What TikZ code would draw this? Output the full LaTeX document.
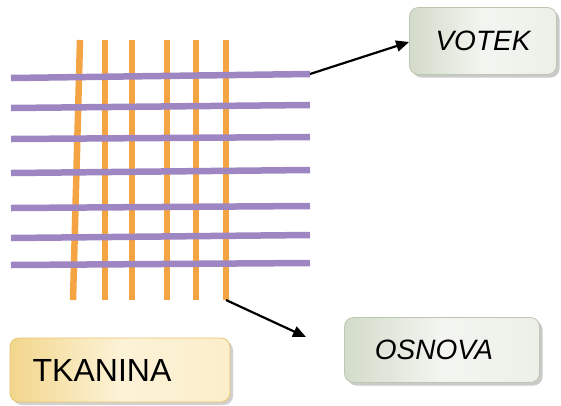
\documentclass[tikz,border=0pt]{standalone}
\usepackage{fontspec}
\setmainfont{Liberation Sans}
\usetikzlibrary{arrows.meta,shadows}
\definecolor{weft}{HTML}{9E86C2}
\definecolor{warp}{HTML}{F5A444}
\definecolor{gboxdark}{HTML}{D3DBCA}
\definecolor{gboxlight}{HTML}{F3F5F0}
\definecolor{gboxedge}{HTML}{BCC6B1}
\definecolor{yboxdark}{HTML}{F2D68C}
\definecolor{yboxlight}{HTML}{FCF2D6}
\definecolor{yboxedge}{HTML}{E5C46C}
\tikzset{
  weftline/.style={weft, line width=6.5pt},
  warpline/.style={warp, line width=6.5pt},
  greybox/.style={draw=gboxedge, line width=0.8pt, rounded corners=9pt,
    left color=gboxdark, right color=gboxlight!80!gboxdark, middle color=gboxlight,
    drop shadow={shadow xshift=3pt, shadow yshift=-3pt, fill=black!35, opacity=0.6},
    font=\itshape\fontsize{28}{32}\selectfont, inner sep=0pt},
  yellowbox/.style={draw=yboxedge, line width=0.8pt, rounded corners=9pt,
    left color=yboxdark, right color=yboxlight!85!yboxdark, middle color=yboxlight,
    drop shadow={shadow xshift=3pt, shadow yshift=-3pt, fill=black!30, opacity=0.6},
    font=\fontsize{32}{36}\selectfont, inner sep=0pt},
  pointer/.style={black, line width=2.2pt, -{Triangle[length=13pt,width=11pt]}}
}
\begin{document}
\begin{tikzpicture}[x=1pt,y=-1pt]
\useasboundingbox (0,0) rectangle (561,405);
% warp threads (orange)
\draw[warpline] (80,40) -- (73,300);
\foreach \x in {105,132,167,196,226}
  \draw[warpline] (\x,40) -- (\x,300);
% weft threads (purple)
\foreach \yl/\yr in {78/74,108/105,139/137,173/170,208/206,238/235,265/263}
  \draw[weftline] (11,\yl) -- (310,\yr);
% boxes
\node[greybox, minimum width=147pt, minimum height=67pt] (votek) at (483,41) {VOTEK};
\node[greybox, minimum width=195pt, minimum height=65pt] (osnova) at (442,350) {\hspace*{-16pt}OSNOVA};
\node[yellowbox, minimum width=220pt, minimum height=64pt] (tkanina) at (120,370) {\hspace*{-36pt}TKANINA};
% pointers
\coordinate (weftend) at (310,74);
\coordinate (warpend) at (226,300);
\draw[pointer] (weftend) -- (votek.west |- 0,42);
\draw[pointer] (warpend) -- (306,337);
\end{tikzpicture}
\end{document}
